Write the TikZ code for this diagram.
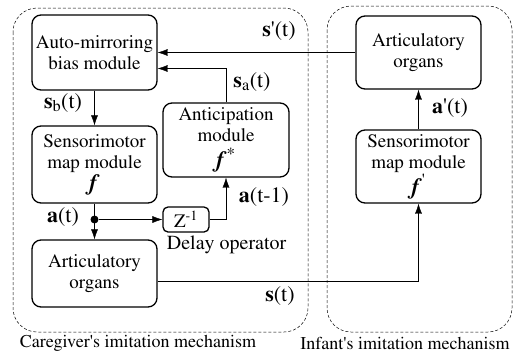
\documentclass[tikz,border=0pt]{standalone}
\usepackage[T1]{fontenc}
\usepackage{mathptmx}
\usetikzlibrary{arrows.meta,positioning,calc}

\newcommand{\ff}[1]{{\fontsize{23}{22}\selectfont\textbf{\textit{f}}#1}}
\newcommand{\pr}{\textquotesingle}

\begin{document}
\begin{tikzpicture}[x=1pt,y=-1pt,
    module/.style={draw,line width=1.3pt,rounded corners=9pt,align=center,
        minimum width=125pt,inner sep=1pt,font=\fontsize{19}{21}\selectfont},
    group/.style={draw,densely dashed,line width=0.5pt,rounded corners=24pt},
    sig/.style={font=\fontsize{22}{24}\selectfont},
    caption/.style={font=\fontsize{18}{20}\selectfont},
    >={Latex[length=10pt,width=7pt]}]
    \useasboundingbox (0,0) rectangle (525,354);

    % Mechanism frames
    \draw[group] (13,8) rectangle (308,332);
    \draw[group] (327,6) rectangle (512,332);
    \node[caption] (capL) at (138,343) {Caregiver\pr s imitation mechanism};
    \node[caption] (capR) at (405,343) {Infant\pr s imitation mechanism};

    % Caregiver modules
    \node[module, minimum height=75pt] (auto) at (94.5,52.5) {Auto-mirroring\\bias module};
    \node[module, minimum height=77pt] (sensL) at (94.5,164.5) {Sensorimotor\\map module\\[1pt]\ff{}};
    \node[module, minimum width=126pt, minimum height=74pt] (antic) at (226,140) {Anticipation\\module\\[5pt]\ff{\textsuperscript{*}}};
    \node[module, minimum height=67pt] (artL) at (94.5,273.5) {Articulatory\\organs};
    \node[module, minimum width=46pt, minimum height=25pt, rounded corners=5pt] (zbox) at (186,219.5) {Z\textsuperscript{-1}};
    \node[caption, font=\fontsize{20}{22}\selectfont, below=0pt of zbox.south west, anchor=north west, xshift=1pt] (delay) {Delay operator};

    % Infant modules
    \node[module, minimum height=73pt] (artR) at (418.5,52.5) {Articulatory\\organs};
    \node[module, minimum height=73pt] (sensR) at (418.5,166.5) {Sensorimotor\\map module\\[1pt]\ff{\textsuperscript{\pr}}};

    % Signals
    \draw[->] (artR.west) -- (auto.east);
    \draw[->] (antic.north) |- ($(auto.east)+(0,16)$);
    \draw[->] (auto.south) -- (sensL.north);
    \draw[->] (sensL.south) -- (artL.north);
    \node[circle,fill,inner sep=0pt,minimum size=8pt] (jn) at (sensL.south |- zbox.west) {};
    \draw[->] (jn) -- (zbox.west);
    \draw[->] (zbox.east) -| (antic.south);
    \draw[->] (sensR.north) -- (artR.south);
    \draw[->] ($(artL.east)+(0,7.5)$) -| (sensR.south);

    % Labels
    \node[sig] (lsp) at (279,31) {\textbf{s}\pr(t)};
    \node[sig] (lsa) at (252,82) {\textbf{s}\textsubscript{a}(t)};
    \node[sig] (lsb) at (63,103) {\textbf{s}\textsubscript{b}(t)};
    \node[sig] (la) at (63,217) {\textbf{a}(t)};
    \node[sig] (lam) at (264,197) {\textbf{a}(t-1)};
    \node[sig] (lap) at (450,108) {\textbf{a}\pr(t)};
    \node[sig] (ls) at (280,296) {\textbf{s}(t)};
\end{tikzpicture}
\end{document}
